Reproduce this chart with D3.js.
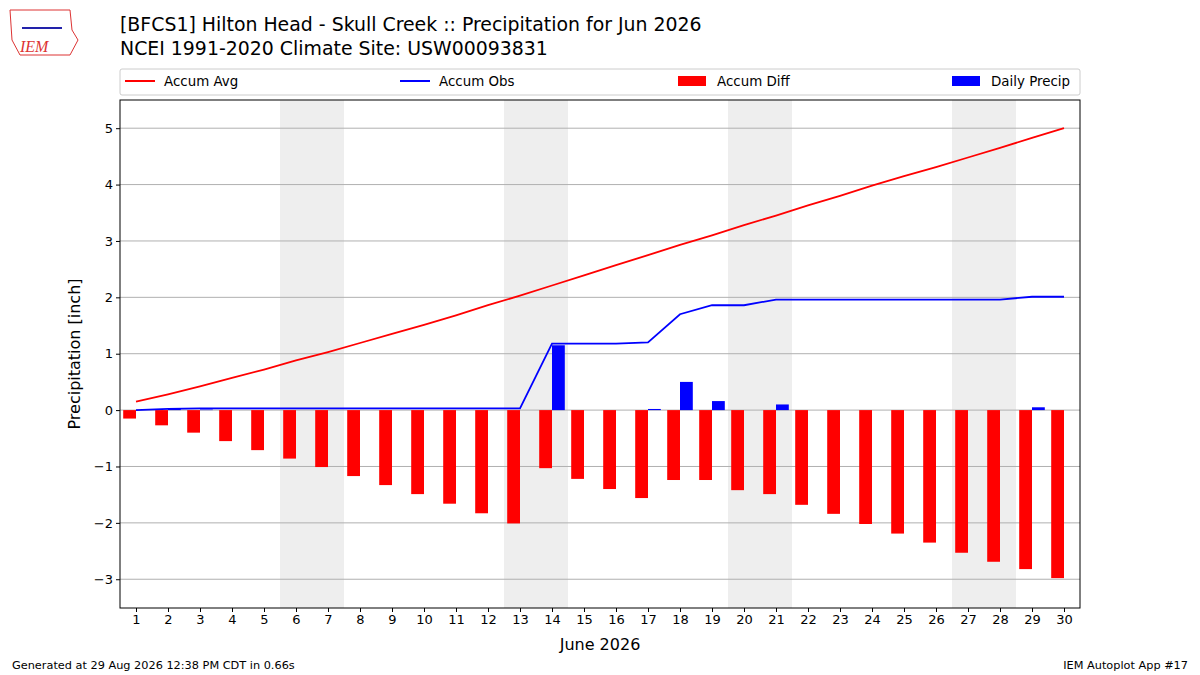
<!DOCTYPE html>
<html><head><meta charset="utf-8">
<script src="https://cdn.jsdelivr.net/npm/d3@7"></script>
<style>body{margin:0;background:#fff;font-family:"DejaVu Sans",sans-serif}</style>
</head><body><svg id="c" width="1200" height="675"></svg>
<script>
const days = d3.range(1,31);
const accumAvg = [0.15,0.28,0.42,0.57,0.72,0.88,1.03,1.19,1.35,1.51,1.68,1.86,2.03,2.21,2.39,2.57,2.75,2.93,3.10,3.28,3.45,3.63,3.80,3.98,4.15,4.31,4.48,4.65,4.83,5.00];
const accumObs = [0.0,0.02,0.03,0.03,0.03,0.03,0.03,0.03,0.03,0.03,0.03,0.03,0.03,1.18,1.18,1.18,1.20,1.70,1.86,1.86,1.96,1.96,1.96,1.96,1.96,1.96,1.96,1.96,2.01,2.01];
const accumDiff = [-0.15,-0.27,-0.40,-0.55,-0.71,-0.86,-1.01,-1.17,-1.33,-1.49,-1.66,-1.83,-2.01,-1.03,-1.22,-1.40,-1.56,-1.24,-1.24,-1.42,-1.49,-1.68,-1.84,-2.02,-2.19,-2.35,-2.53,-2.69,-2.82,-2.98];
const dailyPrecip = [0,0.02,0.01,0,0,0,0,0,0,0,0,0,0,1.15,0,0,0.02,0.50,0.16,0,0.10,0,0,0,0,0,0,0,0.05,0];
const weekends = [[6,7],[13,14],[20,21],[27,28]];
const yTicks = [-3,-2,-1,0,1,2,3,4,5];

const svg = d3.select("#c");
const L=120,R=1080,T=100,B=608;
const x = d3.scaleLinear().domain([0.5,30.5]).range([L,R]);
const y = d3.scaleLinear().domain([-3.51,5.5]).range([B,T]);
const g = svg.append("g");
weekends.forEach(w=>g.append("rect").attr("x",x(w[0]-0.5)).attr("width",x(w[1]+0.5)-x(w[0]-0.5)).attr("y",T).attr("height",B-T).attr("fill","#eeeeee"));
yTicks.forEach(t=>g.append("line").attr("x1",L).attr("x2",R).attr("y1",y(t)).attr("y2",y(t)).attr("stroke","#b0b0b0").attr("stroke-width",1));
const bw = x(1.4)-x(1);
g.selectAll(".d").data(days).enter().append("rect").attr("x",d=>x(d)-bw).attr("width",bw)
 .attr("y",(d,i)=>y(Math.max(0,accumDiff[i]))).attr("height",(d,i)=>Math.abs(y(accumDiff[i])-y(0))).attr("fill","red");
g.selectAll(".p").data(days).enter().append("rect").attr("x",d=>x(d)).attr("width",bw)
 .attr("y",(d,i)=>y(dailyPrecip[i])).attr("height",(d,i)=>y(0)-y(dailyPrecip[i])).attr("fill","blue");
const line = arr => d3.line().x((d,i)=>x(days[i])).y(d=>y(d))(arr);
g.append("path").attr("d",line(accumAvg)).attr("fill","none").attr("stroke","red").attr("stroke-width",1.8);
g.append("path").attr("d",line(accumObs)).attr("fill","none").attr("stroke","blue").attr("stroke-width",1.8);
svg.append("rect").attr("x",L).attr("y",T).attr("width",R-L).attr("height",B-T).attr("fill","none").attr("stroke","#000");
const xa = svg.append("g").attr("transform",`translate(0,${B})`).call(d3.axisBottom(x).tickValues(days).tickSize(4).tickFormat(d3.format("d")));
const ya = svg.append("g").attr("transform",`translate(${L},0)`).call(d3.axisLeft(y).tickValues(yTicks).tickSize(4).tickFormat(d=>d<0?"\u2212"+(-d):d));
[xa,ya].forEach(a=>{a.select(".domain").remove();a.selectAll("text").attr("font-size",13).attr("font-family","DejaVu Sans").attr("fill","#000");});
svg.append("text").attr("x",600).attr("y",650).attr("text-anchor","middle").attr("font-size",16).text("June 2026");
svg.append("text").attr("transform",`translate(80,354) rotate(-90)`).attr("text-anchor","middle").attr("font-size",16).text("Precipitation [inch]");
svg.append("text").attr("x",120).attr("y",31).attr("font-size",18.9).text("[BFCS1] Hilton Head - Skull Creek :: Precipitation for Jun 2026");
svg.append("text").attr("x",120).attr("y",55).attr("font-size",18.9).text("NCEI 1991-2020 Climate Site: USW00093831");
// legend
svg.append("rect").attr("x",120).attr("y",69).attr("width",960).attr("height",26).attr("fill","#fff").attr("stroke","#ccc").attr("rx",2);
const leg=[["Accum Avg","red","l",125],["Accum Obs","blue","l",400],["Accum Diff","red","r",678],["Daily Precip","blue","r",952]];
leg.forEach(l=>{
 if(l[2]=="l") svg.append("line").attr("x1",l[3]).attr("x2",l[3]+30).attr("y1",81).attr("y2",81).attr("stroke",l[1]).attr("stroke-width",2);
 else svg.append("rect").attr("x",l[3]).attr("y",76).attr("width",28).attr("height",10).attr("fill",l[1]);
 svg.append("text").attr("x",l[3]+39).attr("y",86).attr("font-size",13.4).text(l[0]);
});
svg.append("text").attr("x",12).attr("y",669).attr("font-size",11.3).text("Generated at 29 Aug 2026 12:38 PM CDT in 0.66s");
svg.append("text").attr("x",1188).attr("y",669).attr("text-anchor","end").attr("font-size",11.3).text("IEM Autoplot App #17");
// logo
svg.append("path").attr("d","M10,10 L70,10 L72,30 L78,40 L70,55 L20,55 L12,40 Z").attr("fill","none").attr("stroke","#d33").attr("stroke-width",1);
svg.append("text").attr("x",20).attr("y",52).attr("font-size",16).attr("font-style","italic").attr("fill","#d33").attr("font-family","Liberation Serif").text("IEM");
svg.append("line").attr("x1",22).attr("x2",62).attr("y1",28).attr("y2",28).attr("stroke","#22a").attr("stroke-width",2);
</script></body></html>
